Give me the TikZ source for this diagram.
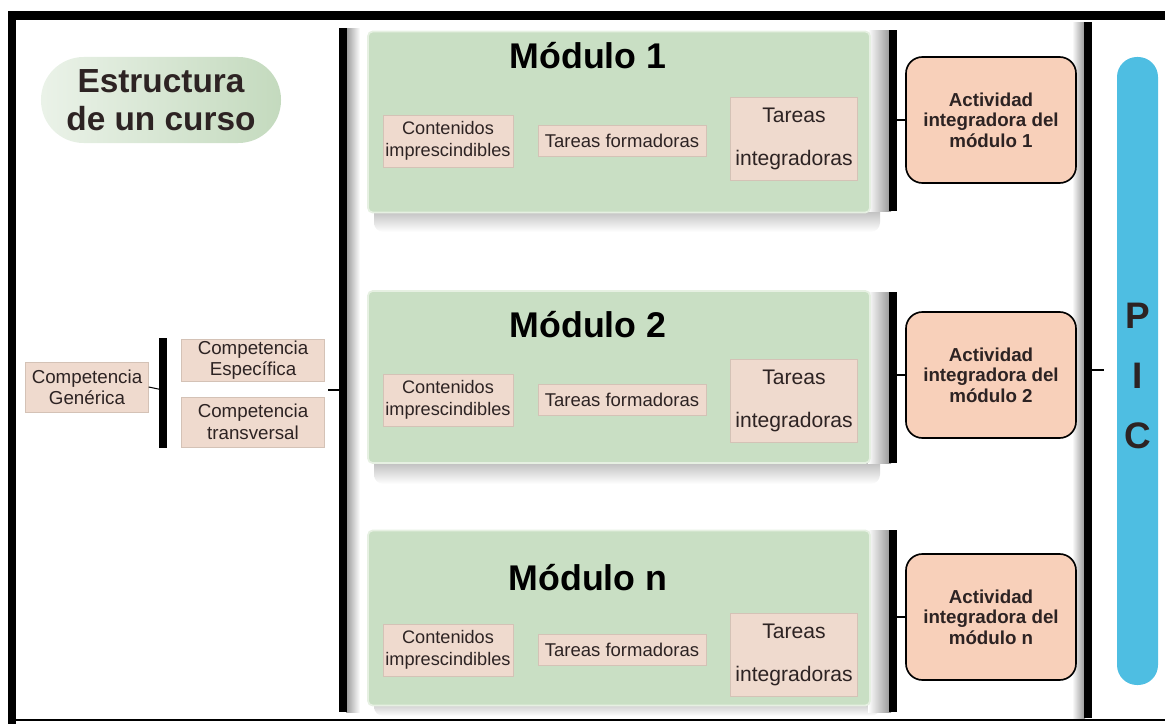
\documentclass[tikz,border=0pt]{standalone}
\usepackage{fontspec}
\setmainfont{Liberation Sans}
\usepackage{xcolor}
\definecolor{modgreen}{RGB}{201,223,196}
\definecolor{modedge}{RGB}{230,240,226}
\definecolor{itemfill}{RGB}{239,218,206}
\definecolor{itemedge}{RGB}{212,194,182}
\definecolor{actfill}{RGB}{248,208,186}
\definecolor{picblue}{RGB}{78,190,226}
\definecolor{pillgreen}{RGB}{196,218,190}
\definecolor{txtdark}{RGB}{45,35,35}
\usetikzlibrary{positioning}

\begin{document}
\begin{tikzpicture}[x=0.03cm, y=-0.03cm,
  itembox/.style={fill=itemfill, draw=itemedge, inner sep=0pt, align=center, text=txtdark},
  contbox/.style={itembox, minimum width=3.9cm, minimum height=1.56cm, font=\fontsize{15.5}{19}\selectfont},
  formbox/.style={itembox, minimum width=5.05cm, minimum height=0.92cm, font=\fontsize{15.8}{18}\selectfont},
  integbox/.style={itembox, minimum width=3.8cm, minimum height=2.5cm, font=\fontsize{18}{36}\selectfont},
  modbox/.style={fill=modgreen, draw=modedge, line width=1.5pt, rounded corners=4pt, inner sep=0pt,
    minimum width=15.06cm},
  modtitle/.style={font=\fontsize{30.5}{32}\selectfont\bfseries},
  actbox/.style={fill=actfill, draw=black, line width=1.4pt, rounded corners=14pt, inner sep=0pt,
    align=center, minimum width=5.1cm, minimum height=3.78cm, text=txtdark,
    font=\fontsize{16}{17.5}\selectfont\bfseries},
  bar/.style={line width=6pt},
  link/.style={line width=0.9pt}]
  \useasboundingbox (0,0) rectangle (1165,724);

  % Frame
  \fill (8,11) rectangle (1165,20);
  \fill (8,11) rectangle (16,724);
  \fill (16,719) rectangle (1165,721);

  % Header
  \node[left color=pillgreen!35!white, right color=pillgreen, rounded corners=1.28cm,
        minimum width=7.2cm, minimum height=2.58cm,
        align=center, font=\fontsize{28.5}{32}\selectfont\bfseries, text=txtdark] (title) at (161,100)
       {Estructura\\de un curso};

  % Competencias
  \node[itembox, minimum width=3.69cm, minimum height=1.5cm, font=\fontsize{16}{18}\selectfont] (gen) at (87,387)
       {Competencia\\Genérica};
  \node[itembox, minimum width=4.29cm, minimum height=1.25cm, font=\fontsize{16}{18.5}\selectfont] (esp) at (253,360)
       {Competencia\\Específica};
  \node[itembox, minimum width=4.29cm, minimum height=1.5cm, font=\fontsize{16}{18.5}\selectfont] (trans) at (253,422)
       {Competencia\\transversal};
  \coordinate (brt) at (163,338);
  \coordinate (brb) at (163,448);
  \coordinate (brm) at (163,390);
  \draw[bar] (brt) -- (brb);
  \draw[link] (gen.east) -- (brm);

  % Main bracket
  \shade[left color=gray!80, right color=white] (346,28) rectangle (360,712);
  \coordinate (bigt) at (343,28);
  \coordinate (bigb) at (343,712);
  \coordinate (bigm) at (343,390);
  \coordinate (stubl) at (328,390);
  \draw[bar] (bigt) -- (bigb);
  \draw[link] (stubl) -- (bigm);

  % Module shadows
  \shade[top color=gray!80, bottom color=white, rounded corners=8pt] (374,198) rectangle (880,232);
  \shade[top color=gray!80, bottom color=white, rounded corners=8pt] (374,450) rectangle (880,484);
  \shade[top color=gray!80, bottom color=white, rounded corners=8pt] (374,692) rectangle (880,716);

  % Module bars
  \shade[left color=white, right color=gray!85] (868,30) rectangle (891,211);
  \shade[left color=white, right color=gray!85] (868,292) rectangle (891,463);
  \shade[left color=white, right color=gray!85] (868,530) rectangle (891,712);
  \coordinate (b1t) at (893,30);  \coordinate (b1b) at (893,211); \coordinate (b1m) at (893,120);
  \coordinate (b2t) at (893,292); \coordinate (b2b) at (893,463); \coordinate (b2m) at (893,375);
  \coordinate (bnt) at (893,530); \coordinate (bnb) at (893,712); \coordinate (bnm) at (893,617);
  \draw[bar] (b1t) -- (b1b);
  \draw[bar] (b2t) -- (b2b);
  \draw[bar] (bnt) -- (bnb);

  % Module 1
  \node[modbox, minimum height=5.43cm] (mod1) at (619,122) {};
  \node[modtitle] (mod1t) at (588,56) {Módulo 1};
  \node[contbox] (cont1) at (448,141) {Contenidos\\imprescindibles};
  \node[formbox] (form1) at (622,141) {Tareas formadoras};
  \node[integbox] (integ1) at (794,139) {Tareas\\integradoras};

  % Module 2
  \node[modbox, minimum height=5.16cm] (mod2) at (619,377) {};
  \node[modtitle] (mod2t) at (588,325) {Módulo 2};
  \node[contbox] (cont2) at (448,400) {Contenidos\\imprescindibles};
  \node[formbox] (form2) at (622,400) {Tareas formadoras};
  \node[integbox] (integ2) at (794,401) {Tareas\\integradoras};

  % Module n
  \node[modbox, minimum height=5.25cm] (modn) at (619,618) {};
  \node[modtitle] (modnt) at (588,578) {Módulo n};
  \node[contbox] (contn) at (448,650) {Contenidos\\imprescindibles};
  \node[formbox] (formn) at (622,650) {Tareas formadoras};
  \node[integbox] (integn) at (794,655) {Tareas\\integradoras};

  % PIC bracket
  \shade[left color=white, right color=gray!85] (1072,22) rectangle (1085,718);
  \coordinate (pict) at (1088,22);
  \coordinate (picb) at (1088,718);
  \coordinate (picm) at (1088,370);
  \coordinate (stubr) at (1104,370);
  \draw[line width=7pt] (pict) -- (picb);
  \draw[link] (picm) -- (stubr);

  % Actividades integradoras
  \node[actbox] (act1) at (991,120) {Actividad\\integradora del\\módulo 1};
  \node[actbox] (act2) at (991,375) {Actividad\\integradora del\\módulo 2};
  \node[actbox] (actn) at (991,617) {Actividad\\integradora del\\módulo n};
  \draw[link] (b1m) -- (act1.west);
  \draw[link] (b2m) -- (act2.west);
  \draw[link] (bnm) -- (actn.west);

  % PIC
  \node[fill=picblue, rounded corners=0.6cm, minimum width=1.23cm, minimum height=18.84cm, inner sep=0pt] (pic) at (1137.5,371) {};
  \node[font=\fontsize{31.5}{32}\selectfont\bfseries, text=txtdark] (picp) at (1137.5,316) {P};
  \node[font=\fontsize{31.5}{32}\selectfont\bfseries, text=txtdark] (pici) at (1137.5,376) {I};
  \node[font=\fontsize{31.5}{32}\selectfont\bfseries, text=txtdark] (picc) at (1137.5,436) {C};
\end{tikzpicture}
\end{document}
